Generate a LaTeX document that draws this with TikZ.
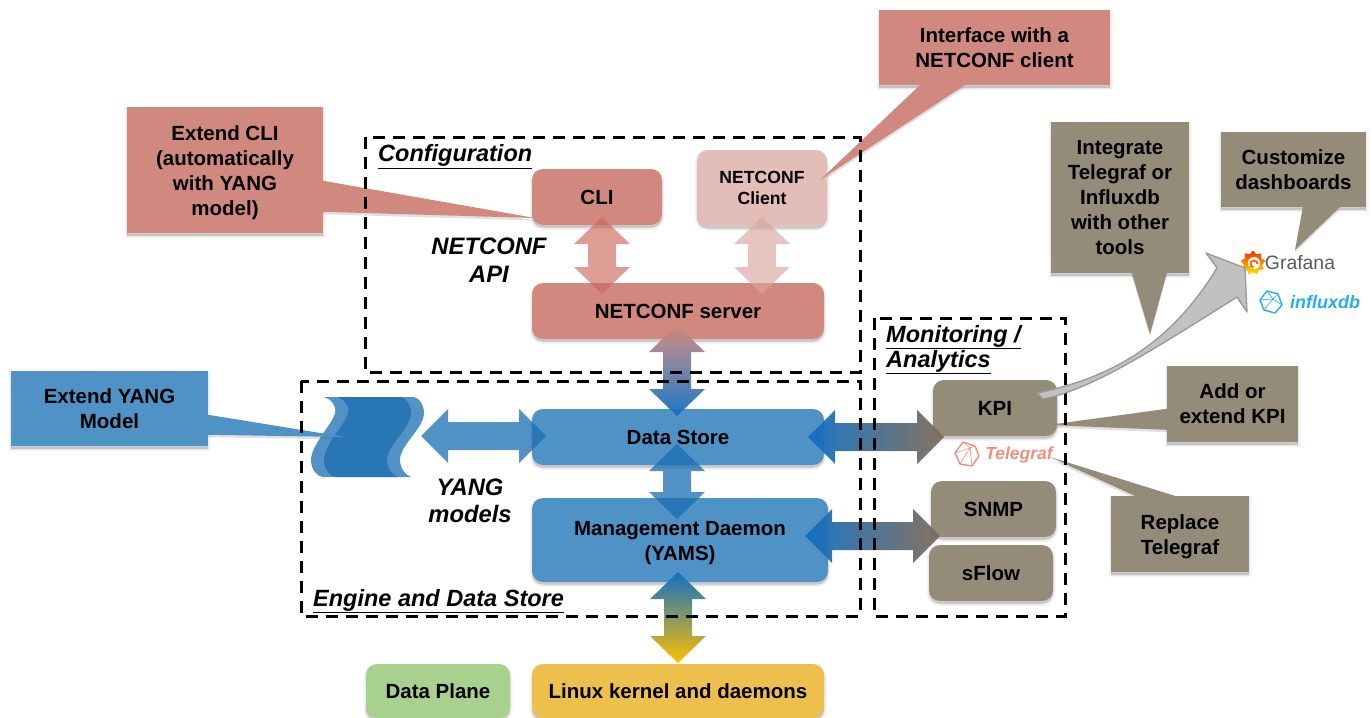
\documentclass[tikz,border=0pt]{standalone}
\usepackage{fontspec}
\setmainfont{Liberation Sans}
\usetikzlibrary{calc,shapes.geometric}
\definecolor{rosebox}{HTML}{D1897F}
\definecolor{rosepale}{HTML}{E3BDB7}
\definecolor{rosedeep}{HTML}{C9685C}
\definecolor{palemid}{HTML}{D9A59C}
\definecolor{bluebox}{HTML}{4F92C6}
\definecolor{bluedeep}{HTML}{1A6DB1}
\definecolor{bluevivid}{HTML}{0F70C4}
\definecolor{taupebox}{HTML}{948B78}
\definecolor{taupedark}{HTML}{7F6B58}
\definecolor{greenbox}{HTML}{A9D18E}
\definecolor{yellowbox}{HTML}{EDBF4C}
\definecolor{amberend}{HTML}{FFC000}
\definecolor{grayarrow}{HTML}{C2C0C2}
\definecolor{graftext}{HTML}{5A5A5C}
\definecolor{influxblue}{HTML}{22ADF6}
\definecolor{teleorange}{HTML}{F0907C}
\pgfdeclarelayer{under}
\pgfsetlayers{under,main}
\newcommand{\lowst}{\rule{0pt}{21pt}}
\tikzset{
  softshadow/.style={
    preaction={draw=black,draw opacity=.04,fill=black,fill opacity=.04,line width=5pt,transform canvas={yshift=-2.5pt}},
    preaction={draw=black,draw opacity=.05,fill=black,fill opacity=.05,line width=2.5pt,transform canvas={yshift=-2.5pt}},
    preaction={fill=black,fill opacity=.08,transform canvas={yshift=-2.5pt}}},
  boxtext/.style={font=\fontsize{20.5}{25}\selectfont\bfseries,align=center,text=black},
  flowbox/.style={boxtext,rounded corners=11pt,inner sep=0pt,softshadow},
  callbox/.style={boxtext,inner sep=0pt,softshadow},
  framebox/.style={draw=black,line width=3pt,dash pattern=on 12pt off 8pt},
  frametitle/.style={font=\fontsize{23.5}{25}\selectfont\bfseries\itshape,align=left,anchor=west,text=black,inner sep=0pt},
  apilabel/.style={font=\fontsize{23.8}{27.5}\selectfont\bfseries\itshape,align=center,text=black},
  rosearrow/.style={fill=rosedeep,fill opacity=.65},
  palearrow/.style={fill=palemid,fill opacity=.65},
  bluearrow/.style={fill=bluedeep,fill opacity=.75},
  wave/.style={fill=bluedeep,fill opacity=.75},
}
\newcommand{\vblock}[3]{%
  \path[#1] (#2) -- ($(#2)+(28,27)$) -- ($(#2)+(14,27)$) -- ($(#3)+(14,-27)$) -- ($(#3)+(28,-27)$) -- (#3)
    -- ($(#3)+(-28,-27)$) -- ($(#3)+(-14,-27)$) -- ($(#2)+(-14,27)$) -- ($(#2)+(-28,27)$) -- cycle;}
\newcommand{\hblock}[3]{%
  \path[#1] (#2) -- ($(#2)+(27,-27)$) -- ($(#2)+(27,-14)$) -- ($(#3)+(-27,-14)$) -- ($(#3)+(-27,-27)$) -- (#3)
    -- ($(#3)+(-27,27)$) -- ($(#3)+(-27,14)$) -- ($(#2)+(27,14)$) -- ($(#2)+(27,27)$) -- cycle;}
\newcommand{\waveshape}[1]{%
  \path[wave,shift={(#1,0)}] (324,397) .. controls (331,399) and (337,406) .. (335,413)
    .. controls (332,425) and (311,445) .. (311,460) .. controls (311,470) and (318,477) .. (323,477)
    -- (398,477) .. controls (392,475) and (387,468) .. (387,460)
    .. controls (387,445) and (411,428) .. (411,413) .. controls (411,404) and (405,397) .. (400,397) -- cycle;}
\newcommand{\pointer}[4]{%
  \begin{pgfonlayer}{under}
  \path[fill=black,fill opacity=.12,transform canvas={yshift=-2.5pt}] (#2) -- (#3) -- (#4) -- cycle;
  \end{pgfonlayer}
  \path[fill=#1] (#2) -- (#3) -- (#4) -- cycle;}
\begin{document}
\begin{tikzpicture}[x=1pt,y=-1pt]
\useasboundingbox (0,0) rectangle (1372,717);

% callouts
\node[callbox,fill=rosebox,minimum width=231pt,minimum height=75pt] (ifcall) at (994.5,47.5) {Interface with a\\NETCONF client};
\node[callbox,fill=rosebox,minimum width=196pt,minimum height=126pt] (clicall) at (225,170) {\lowst Extend CLI\\(automatically\\with YANG\\model)};
\node[callbox,fill=bluebox,minimum width=197pt,minimum height=75pt] (yangcall) at (109.5,408.5) {Extend YANG\\Model};
\node[callbox,fill=taupebox,minimum width=138pt,minimum height=151pt] (intcall) at (1120,197.5) {Integrate\\Telegraf or\\Influxdb\\with other\\tools};
\node[callbox,fill=taupebox,minimum width=145pt,minimum height=75pt] (dashcall) at (1293.5,169.5) {Customize\\dashboards};
\node[callbox,fill=taupebox,minimum width=131pt,minimum height=76pt] (addcall) at (1232.5,404) {Add or\\extend KPI};
\node[callbox,fill=taupebox,minimum width=138pt,minimum height=76pt] (repcall) at (1180,534) {\lowst Replace\\Telegraf};

% boxes
\node[flowbox,fill=rosebox,minimum width=130pt,minimum height=56pt] (cli) at (597,197) {CLI};
\node[flowbox,fill=rosepale,minimum width=130pt,minimum height=76pt,font=\fontsize{17.6}{21}\selectfont\bfseries] (client) at (762,188) {NETCONF\\Client};
\node[flowbox,fill=rosebox,minimum width=292pt,minimum height=56pt] (server) at (678,311) {NETCONF server};
\node[flowbox,fill=bluebox,minimum width=292pt,minimum height=56pt] (store) at (678,437) {Data Store};
\node[flowbox,fill=bluebox,minimum width=296pt,minimum height=84pt] (daemon) at (680,540) {\lowst Management Daemon\\(YAMS)};
\node[flowbox,fill=taupebox,minimum width=124pt,minimum height=56pt] (kpi) at (995,408) {KPI};
\node[flowbox,fill=taupebox,minimum width=125pt,minimum height=56pt] (snmp) at (993.5,509) {SNMP};
\node[flowbox,fill=taupebox,minimum width=124pt,minimum height=56pt] (sflow) at (991,573) {sFlow};
\node[flowbox,fill=greenbox,minimum width=144pt,minimum height=54pt] (plane) at (438,691) {Data Plane};
\node[flowbox,fill=yellowbox,minimum width=292pt,minimum height=54pt] (linux) at (678,691) {Linux kernel and daemons};

% YANG models stack
\waveshape{0}
\waveshape{13}
\coordinate (yangright) at (421,436);
\coordinate (yangin) at (345,437);

% logos
\node[star,star points=9,star point ratio=1.35,minimum size=25pt,inner sep=0pt,top color=red!70!orange,bottom color=yellow!85!orange] (grafanalogo) at (1253,263) {};
\fill[white] ($(grafanalogo)+(1,0)$) circle (6pt);
\draw[orange!85!red,line width=2pt] ($(grafanalogo)+(4.5,1)$) arc (0:260:3.5pt);
\node[font=\fontsize{19.4}{22}\selectfont,text=graftext,inner sep=0pt] (grafana) at (1300,263) {Grafana};

\coordinate (influxlogo) at (1271,302);
\draw[influxblue,line width=1.4pt,line join=round] ($(influxlogo)+(-4,-11)$) -- ($(influxlogo)+(7,-8)$) -- ($(influxlogo)+(11,3)$) -- ($(influxlogo)+(4,11)$) -- ($(influxlogo)+(-7,8)$) -- ($(influxlogo)+(-11,-2)$) -- cycle;
\draw[influxblue,line width=.6pt] ($(influxlogo)+(-11,-2)$) -- ($(influxlogo)+(2,-3)$) -- ($(influxlogo)+(7,-8)$) ($(influxlogo)+(2,-3)$) -- ($(influxlogo)+(11,3)$) ($(influxlogo)+(2,-3)$) -- ($(influxlogo)+(-7,8)$) -- ($(influxlogo)+(4,11)$) ($(influxlogo)+(-4,-11)$) -- ($(influxlogo)+(2,-3)$);
\node[font=\fontsize{18}{22}\selectfont\bfseries\itshape,text=influxblue,inner sep=0pt] (influx) at (1325,302) {influxdb};

\coordinate (telelogo) at (967,454);
\draw[teleorange,line width=1.4pt,line join=round] ($(telelogo)+(-4,-12)$) -- ($(telelogo)+(8,-8)$) -- ($(telelogo)+(12,2)$) -- ($(telelogo)+(5,12)$) -- ($(telelogo)+(-7,10)$) -- ($(telelogo)+(-12,-1)$) -- cycle;
\draw[teleorange,line width=.6pt] ($(telelogo)+(-12,-1)$) -- ($(telelogo)+(3,-6)$) -- ($(telelogo)+(8,-8)$) ($(telelogo)+(3,-6)$) -- ($(telelogo)+(5,12)$) ($(telelogo)+(-4,-12)$) -- ($(telelogo)+(3,-6)$) -- ($(telelogo)+(-7,10)$);
\node[font=\fontsize{17.5}{20}\selectfont\bfseries\itshape,text=teleorange,inner sep=0pt] (telegraf) at (1019,455) {Telegraf};

% callout pointers
\coordinate (ifa) at ($(ifcall.south west)+(41,0)$);
\coordinate (ifb) at ($(ifcall.south west)+(86,0)$);
\coordinate (iftip) at (820,180);
\pointer{rosebox}{ifa}{iftip}{ifb}
\coordinate (clia) at ($(clicall.north east)+(0,74)$);
\coordinate (clib) at ($(clicall.north east)+(0,105)$);
\coordinate (clitip) at (535,218);
\pointer{rosebox}{clia}{clitip}{clib}
\coordinate (yanga) at ($(yangcall.north east)+(0,44)$);
\coordinate (yangb) at ($(yangcall.north east)+(0,64)$);
\pointer{bluebox}{yanga}{yangin}{yangb}
\coordinate (inta) at ($(intcall.south west)+(81,0)$);
\coordinate (intb) at ($(intcall.south west)+(116,0)$);
\coordinate (inttip) at (1150,334);
\pointer{taupebox}{inta}{inttip}{intb}
\coordinate (dasha) at ($(dashcall.south west)+(82,0)$);
\coordinate (dashb) at ($(dashcall.south west)+(119,0)$);
\coordinate (dashtip) at (1295,250);
\pointer{taupebox}{dasha}{dashtip}{dashb}
\coordinate (adda) at ($(addcall.north west)+(0,43)$);
\coordinate (addb) at ($(addcall.north west)+(0,64)$);
\coordinate (addtip) at (1048,425);
\pointer{taupebox}{adda}{addtip}{addb}
\coordinate (repa) at ($(repcall.north west)+(24,0)$);
\coordinate (repb) at ($(repcall.north west)+(64,0)$);
\coordinate (reptip) at (1050,457);
\pointer{taupebox}{repa}{reptip}{repb}

% block arrows
\coordinate (clitop) at (602,217);     \coordinate (clibot) at (602,294);
\coordinate (clienttop) at (762,217);  \coordinate (clientbot) at (762,294);
\coordinate (servtop) at (677,325);    \coordinate (servbot) at (677,416);
\coordinate (stotop) at (677,444);     \coordinate (stobot) at (677,519);
\coordinate (daetop) at (678,572);     \coordinate (daebot) at (678,663);
\coordinate (dsleft) at (546,436);
\coordinate (kpil) at (808,437);       \coordinate (kpir) at (944,437);
\coordinate (snmpl) at (805,536);      \coordinate (snmpr) at (940,536);
\vblock{rosearrow}{clitop}{clibot}
\vblock{palearrow}{clienttop}{clientbot}
\vblock{top color=rosebox,bottom color=bluevivid,fill opacity=.95}{servtop}{servbot}
\vblock{bluearrow}{stotop}{stobot}
\vblock{top color=bluevivid,bottom color=amberend}{daetop}{daebot}
\hblock{bluearrow}{yangright}{dsleft}
\hblock{left color=bluevivid,right color=taupedark,fill opacity=.95}{kpil}{kpir}
\hblock{left color=bluevivid,right color=taupedark,fill opacity=.95}{snmpl}{snmpr}

% frames
\draw[framebox] (365,137) rectangle (860,372);
\draw[framebox] (301,381) rectangle (860,616);
\draw[framebox] (874,318) rectangle (1065,616);

% labels
\node[frametitle] (cfgtitle) at (378,156.5) {\underline{Configuration}};
\node[frametitle] (montitle) at (886,349.5) {\underline{Monitoring /}\\\underline{Analytics}};
\node[frametitle] (engtitle) at (313,601) {\underline{Engine and Data Store}};
\node[apilabel] (apilab) at (489,260) {NETCONF\\API};
\node[apilabel] (modlab) at (470,501) {YANG\\models};

% KPI to dashboards arrow
\coordinate (kpiout) at (1037,393);
\coordinate (graftip) at (1245,268);
\path[fill=grayarrow,draw=gray!80,line width=1.3pt,line join=round]
  (kpiout) .. controls (1110,378) and (1170,345) .. (1217,268)
  -- (1206,253) -- (graftip) -- (1247,312) -- (1237,297)
  .. controls (1150,352) and (1090,390) .. (1043,399) -- cycle;
\end{tikzpicture}
\end{document}
